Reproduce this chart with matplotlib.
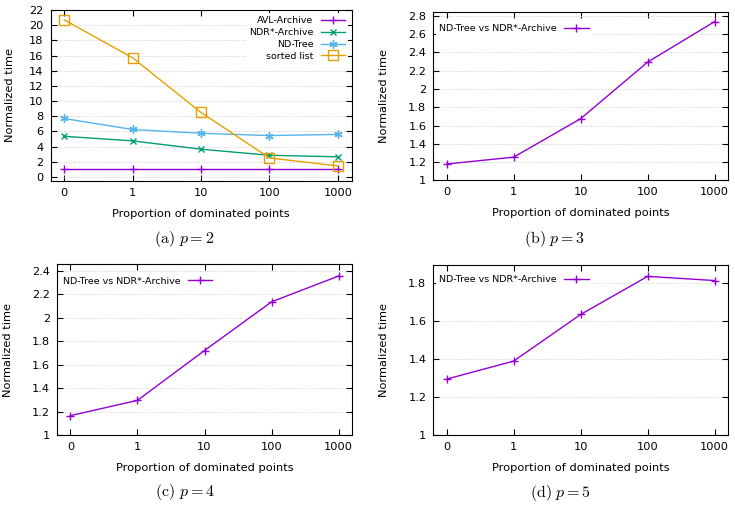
import matplotlib.pyplot as plt
from matplotlib.ticker import MultipleLocator

plt.rcParams["font.family"] = "DejaVu Sans"
plt.rcParams["mathtext.fontset"] = "cm"

# categories on the x axis
props = ["0", "1", "10", "100", "1000"]

# (a) p = 2
avl = [1.0, 1.0, 1.0, 1.0, 1.0]
ndr = [5.35, 4.75, 3.65, 2.85, 2.65]
ndtree = [7.7, 6.25, 5.75, 5.45, 5.6]
sorted_list = [20.7, 15.7, 8.5, 2.5, 1.45]

# (b)-(d) ND-Tree vs NDR*-Archive
ratio_p3 = [1.18, 1.255, 1.675, 2.293, 2.735]
ratio_p4 = [1.165, 1.295, 1.72, 2.135, 2.355]
ratio_p5 = [1.295, 1.39, 1.636, 1.837, 1.815]

PURPLE = "#9400D3"
GREEN = "#009E73"
BLUE = "#56B4E9"
ORANGE = "#E69F00"
FS = 8.2      # ticks and axis labels
LFS = 6.8     # legend

fig = plt.figure(figsize=(7.35, 5.11), dpi=100)
W, H = 735, 511


def make_ax(l, t, r, b):
    return fig.add_axes([l / W, 1 - b / H, (r - l) / W, (b - t) / H])


def style(ax, ylim, step, lab_x):
    x = range(len(props))
    ax.set_xticks(list(x))
    ax.set_xticklabels(props)
    ax.set_xlim(-0.2, 4.2)
    ax.set_ylim(*ylim)
    ax.yaxis.set_major_locator(MultipleLocator(step))
    ax.yaxis.set_major_formatter(plt.FuncFormatter(lambda v, p: f"{v:g}"))
    ax.tick_params(direction="in", top=True, right=True, labelsize=FS,
                   length=4, width=0.8, pad=5)
    ax.grid(axis="y", color="#bbbbbb", linestyle=(0, (1, 2)), linewidth=0.6)
    ax.set_axisbelow(True)
    for s in ax.spines.values():
        s.set_linewidth(0.8)
    ax.set_xlabel("Proportion of dominated points", fontsize=FS)
    ax.set_ylabel("Normalized time", fontsize=FS)
    ax.yaxis.set_label_coords(lab_x, 0.5)
    ax.xaxis.set_label_coords(0.5, -0.165)


x = range(len(props))

# (a)
ax = make_ax(50.5, 10, 351.5, 180.7)
ax.plot(x, avl, color=PURPLE, lw=1, marker="+", ms=6, label="AVL-Archive")
ax.plot(x, ndr, color=GREEN, lw=1, marker="x", ms=5, label="NDR*-Archive")
ax.plot(x, ndtree, color=BLUE, lw=1, marker=(6, 2, 0), ms=6, label="ND-Tree")
ax.plot(x, sorted_list, color=ORANGE, lw=1, marker="s", ms=6.5, mfc="none",
        label="sorted list")
style(ax, (-0.5, 22), 2, -0.118)
ax.legend(loc="upper right", fontsize=LFS, markerfirst=False, frameon=True,
          edgecolor="none", framealpha=1, fancybox=False, handlelength=2.6,
          labelspacing=0.3, borderaxespad=0.35, borderpad=0.3)

# (b), (c), (d)
panels = [
    ((433.3, 12, 728, 180.5), ratio_p3, (1, 2.84), 0.2, -0.152, 0.96),
    ((57, 264.3, 352, 435), ratio_p4, (1, 2.455), 0.2, -0.148, 0.96),
    ((433.3, 265, 728, 435), ratio_p5, (1, 1.897), 0.2, -0.152, 0.975),
]
for box, vals, ylim, step, lx, ly in panels:
    ax = make_ax(*box)
    ax.plot(x, vals, color=PURPLE, lw=1, marker="+", ms=6,
            label="ND-Tree vs NDR*-Archive")
    style(ax, ylim, step, lx)
    ax.legend(loc="upper left", bbox_to_anchor=(0.0, ly), fontsize=LFS,
              markerfirst=False, frameon=True, edgecolor="none", framealpha=1,
              fancybox=False, handlelength=2.6, borderaxespad=0.3,
              borderpad=0.3)

# captions
caps = [("(a)", "2", 184, 239), ("(b)", "3", 555, 239),
        ("(c)", "4", 185, 492), ("(d)", "5", 561, 493)]
for tag, p, cx, cy in caps:
    fig.text(cx / W, 1 - cy / H, r"$\mathrm{" + tag + r"}\ p = " + p + "$",
             fontsize=11.5, ha="center", va="center")

fig.savefig("out.png", dpi=100)
